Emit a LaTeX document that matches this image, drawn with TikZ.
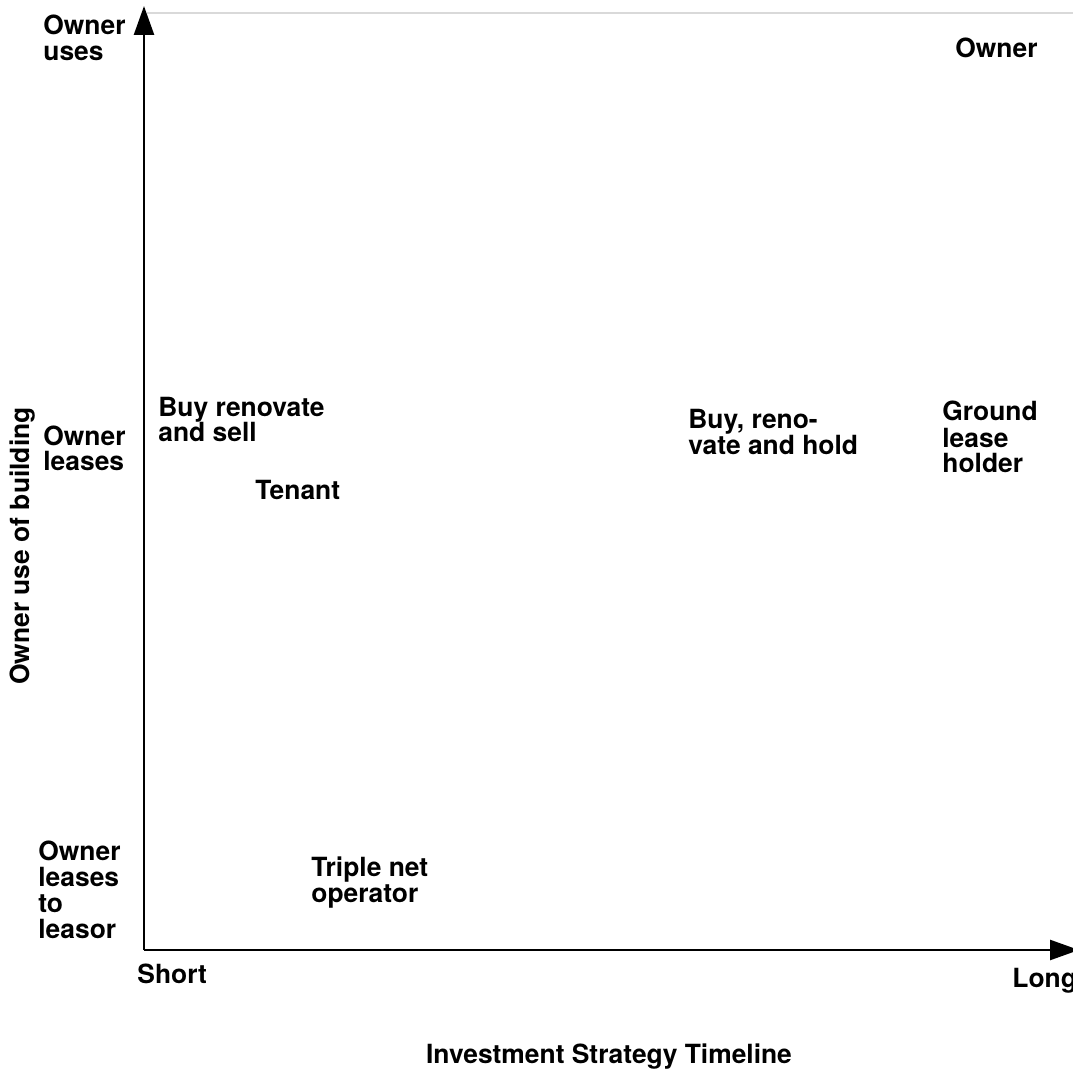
\documentclass[tikz,border=0pt]{standalone}
\usepackage{fontspec}
\setmainfont{TeX Gyre Heros}
\usetikzlibrary{arrows.meta}
\tikzstyle{axis_line} = [
    line width=1.25pt,
    -{Triangle[length=14.5pt, width=10pt]}
]
% multi-line labels sit on the baseline of their last line
\tikzstyle{label_text} = [
    anchor=base west,
    inner sep=0pt,
    align=left,
    font=\fontsize{13.2}{13}\selectfont\bfseries
]

\begin{document}
\begin{tikzpicture}[x=0.5pt, y=-0.5pt]
\useasboundingbox (0,0) rectangle (1073,1070);
% axes
\coordinate (origin) at (144,950);
\coordinate (ytip) at (144,6);
\coordinate (xtip) at (1079,950);
\coordinate (rim_left) at (147,13);
\coordinate (rim_right) at (1073,13);
\draw [black!15, line width=1pt] (rim_left) -- (rim_right);
\draw [axis_line] (origin) -- (ytip);
\draw [axis_line] (origin) -- (xtip);
% levels of owner use
\node [label_text] (uses) at (43,61) {Owner\\uses};
\node [label_text] (leases) at (43,471) {Owner\\leases};
\node [label_text] (leasor) at (38,938) {Owner\\leases\\to\\leasor};
\node [label_text, anchor=base, rotate=90] (ylabel) at (29,546) {Owner use of building};
% timeline
\node [label_text] (short) at (137,983) {Short};
\node [label_text] (long) at (1012,987) {Long};
\node [label_text, anchor=base] (xlabel) at (609,1063) {Investment Strategy Timeline};
% strategies
\node [label_text] (owner) at (955,58) {Owner};
\node [label_text] (flip) at (158,442) {Buy renovate\\and sell};
\node [label_text] (tenant) at (255,500) {Tenant};
\node [label_text] (hold) at (688,454) {Buy, reno-\\vate and hold};
\node [label_text] (ground) at (942,473) {Ground\\lease\\holder};
\node [label_text] (triple) at (311,902) {Triple net\\operator};
\end{tikzpicture}
\end{document}
